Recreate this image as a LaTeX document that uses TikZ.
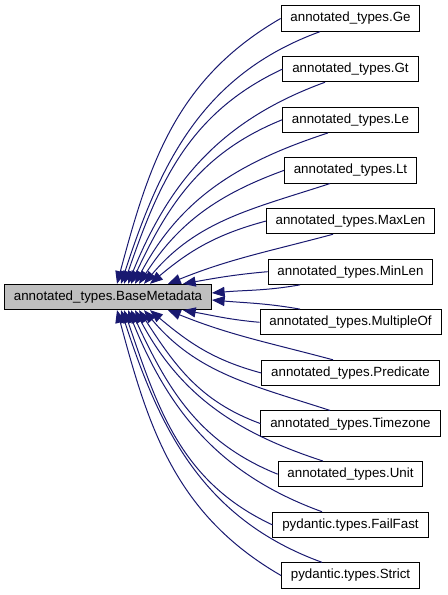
\documentclass[tikz,border=0pt]{standalone}
\usepackage{fontspec}
\setmainfont{Liberation Sans}
\usetikzlibrary{arrows.meta,calc}
\definecolor{midnight}{HTML}{191970}
\definecolor{basefill}{HTML}{BFBFBF}
\begin{document}
\begin{tikzpicture}[x=0.75pt, y=0.75pt,
  cls/.style={draw=black, line width=0.75pt, rectangle, inner xsep=7pt,
              minimum height=19pt, font=\fontsize{10}{12}\selectfont, fill=white},
  edge/.style={draw=midnight, line width=0.75pt, <-,
               >={Triangle[length=9.5pt,width=7.5pt]}}]
\useasboundingbox (0,0) rectangle (447,595);
\node[cls, fill=basefill] (base) at (108,298) {annotated\_types.BaseMetadata};
\node[cls] (ge) at (350.5,576.5) {annotated\_types.Ge};
\node[cls] (gt) at (350.5,525.9) {annotated\_types.Gt};
\node[cls] (le) at (350.5,475.2) {annotated\_types.Le};
\node[cls] (lt) at (350.5,424.6) {annotated\_types.Lt};
\node[cls] (maxlen) at (350.5,373.9) {annotated\_types.MaxLen};
\node[cls] (minlen) at (350.5,323.3) {annotated\_types.MinLen};
\node[cls] (multipleof) at (350.5,272.7) {annotated\_types.MultipleOf};
\node[cls] (predicate) at (350.5,222.0) {annotated\_types.Predicate};
\node[cls] (timezone) at (350.5,171.4) {annotated\_types.Timezone};
\node[cls] (unit) at (350.5,120.8) {annotated\_types.Unit};
\node[cls] (failfast) at (350.5,70.1) {pydantic.types.FailFast};
\node[cls] (strict) at (350.5,19.5) {pydantic.types.Strict};
\draw[edge] ($(base.north west)+(113,0)$) to[out=75,in=210] (ge.west);
\draw[edge] ($(base.north west)+(117,0)$) to[out=72,in=200] ($(ge.south)+(-30.5,0)$);
\draw[edge] ($(base.north west)+(120,0)$) to[out=71,in=205] (gt.west);
\draw[edge] ($(base.north west)+(124,0)$) to[out=68,in=200] ($(gt.south)+(-25.5,0)$);
\draw[edge] ($(base.north west)+(127,0)$) to[out=65,in=202] (le.west);
\draw[edge] ($(base.north west)+(131,0)$) to[out=62,in=198] ($(le.south)+(-22.5,0)$);
\draw[edge] ($(base.north west)+(135,0)$) to[out=57,in=200] (lt.west);
\draw[edge] ($(base.north west)+(140,0)$) to[out=50,in=198] ($(lt.south)+(-20.5,0)$);
\draw[edge] ($(base.north west)+(146,0)$) to[out=40,in=195] (maxlen.west);
\draw[edge] ($(base.north west)+(164,0)$) to[out=22,in=195] ($(maxlen.south)+(-17.5,0)$);
\draw[edge] ($(base.north west)+(179,0)$) to[out=10,in=185] (minlen.west);
\draw[edge] ($(base.east)+(0,4)$) to[out=5,in=190] ($(minlen.south)+(-50.5,0)$);
\draw[edge] ($(base.east)+(0,-3)$) to[out=-5,in=170] ($(multipleof.north)+(-50.5,0)$);
\draw[edge] ($(base.south west)+(179,0)$) to[out=-10,in=175] (multipleof.west);
\draw[edge] ($(base.south west)+(164,0)$) to[out=-22,in=165] ($(predicate.north)+(-17.5,0)$);
\draw[edge] ($(base.south west)+(146,0)$) to[out=-40,in=165] (predicate.west);
\draw[edge] ($(base.south west)+(140,0)$) to[out=-50,in=162] ($(timezone.north)+(-20.5,0)$);
\draw[edge] ($(base.south west)+(135,0)$) to[out=-57,in=160] (timezone.west);
\draw[edge] ($(base.south west)+(131,0)$) to[out=-62,in=162] ($(unit.north)+(-27.5,0)$);
\draw[edge] ($(base.south west)+(127,0)$) to[out=-65,in=158] (unit.west);
\draw[edge] ($(base.south west)+(124,0)$) to[out=-68,in=160] ($(failfast.north)+(-28.5,0)$);
\draw[edge] ($(base.south west)+(120,0)$) to[out=-71,in=155] (failfast.west);
\draw[edge] ($(base.south west)+(117,0)$) to[out=-72,in=160] ($(strict.north)+(-28.5,0)$);
\draw[edge] ($(base.south west)+(113,0)$) to[out=-75,in=150] (strict.west);
\end{tikzpicture}
\end{document}
